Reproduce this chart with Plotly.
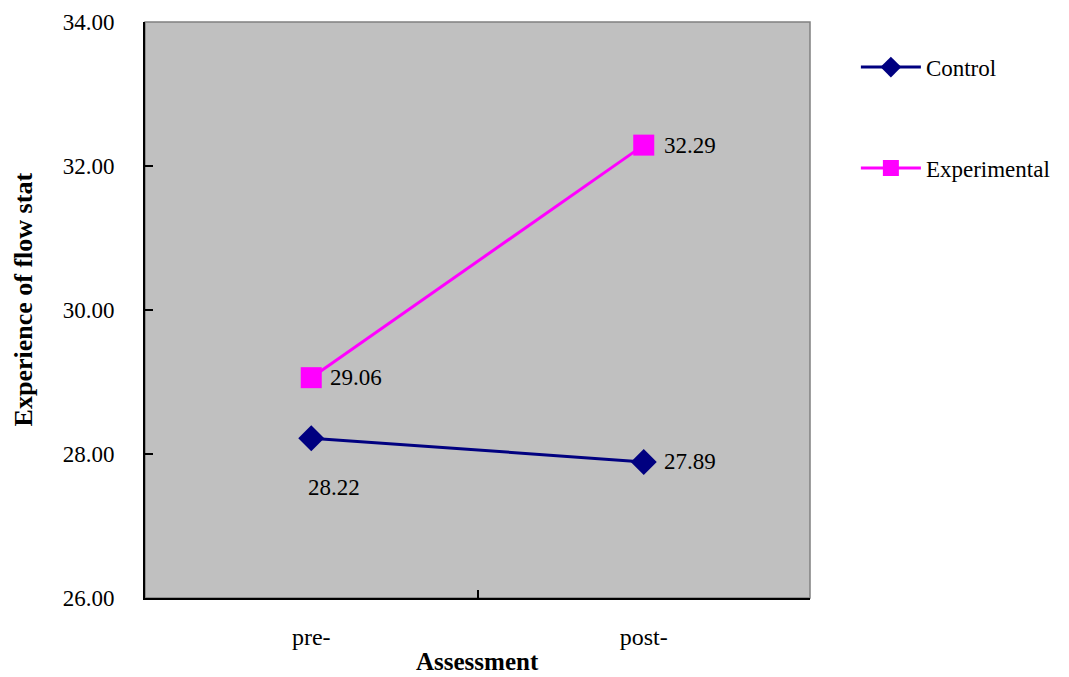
import plotly.graph_objects as go

# Assessment occasions and group means
assessments = ["pre-", "post-"]
control = [28.22, 27.89]
experimental = [29.06, 32.29]
y_ticks = [26, 28, 30, 32, 34]

SERIF = "Liberation Serif"

fig = go.Figure()

fig.add_trace(go.Scatter(
    x=assessments, y=control, name="Control", mode="lines+markers",
    line=dict(color="#000080", width=3),
    marker=dict(symbol="diamond", size=20, color="#000080"),
    legendgroup="c",
))
fig.add_trace(go.Scatter(
    x=assessments, y=experimental, name="Experimental", mode="lines+markers",
    line=dict(color="#ff00ff", width=3),
    marker=dict(symbol="square", size=21, color="#ff00ff"),
    legendgroup="e",
))

# value labels next to each point
label_offsets = {
    ("Control", 0): (23, -49, "center"),
    ("Control", 1): (18, 0, "left"),
    ("Experimental", 0): (17, 0, "left"),
    ("Experimental", 1): (18, 0, "left"),
}
for name, vals in (("Control", control), ("Experimental", experimental)):
    for i, v in enumerate(vals):
        dx, dy, anchor = label_offsets[(name, i)]
        fig.add_annotation(
            x=assessments[i], y=v, text=f"{v:.2f}", showarrow=False,
            xanchor=anchor, yanchor="middle", xshift=dx, yshift=dy,
            font=dict(family=SERIF, size=23, color="black"),
        )

# thin grey frame on the top and right of the plot area
fig.add_shape(type="rect", xref="paper", yref="paper", x0=0, y0=0, x1=1, y1=1,
              line=dict(color="#808080", width=1.5), layer="below")

# rotated y-axis title, bounded by its text box
fig.add_annotation(
    xref="paper", yref="paper", x=-0.183, y=0.295, xanchor="center", yanchor="bottom",
    text="<b>Experience of flow stat</b>", textangle=-90, showarrow=False,
    font=dict(family=SERIF, size=26, color="black"),
)
# x-axis title
fig.add_annotation(
    xref="paper", yref="paper", x=0.5, y=-0.111, xanchor="center", yanchor="middle",
    text="<b>Assessment</b>", showarrow=False, borderpad=0,
    font=dict(family=SERIF, size=25, color="black"),
)

fig.update_layout(
    width=1069, height=677,
    margin=dict(l=145, r=259, t=22, b=79, autoexpand=False),
    paper_bgcolor="white", plot_bgcolor="#c0c0c0",
    font=dict(family=SERIF, size=23, color="black"),
    showlegend=True,
    legend=dict(
        x=1.069, y=0.959, xanchor="left", yanchor="top",
        tracegroupgap=68, itemwidth=60,
        font=dict(family=SERIF, size=23, color="black"),
        bgcolor="rgba(0,0,0,0)",
    ),
)

fig.update_xaxes(
    type="category", range=[-0.5, 1.5], automargin=False,
    showgrid=False, zeroline=False,
    showline=True, linecolor="black", linewidth=2,
    ticks="inside", tickson="boundaries", ticklen=8, tickcolor="black", tickwidth=1.5,
    ticklabelstandoff=16,
    tickfont=dict(family=SERIF, size=24),
)
fig.update_yaxes(
    range=[26, 34], tickvals=y_ticks, ticktext=[f"{t:.2f}" for t in y_ticks],
    automargin=False, showgrid=False, zeroline=False,
    showline=True, linecolor="black", linewidth=2,
    ticks="inside", ticklen=8, tickcolor="black", tickwidth=1.5,
    ticklabelstandoff=24,
)

fig.write_html("out.html")
